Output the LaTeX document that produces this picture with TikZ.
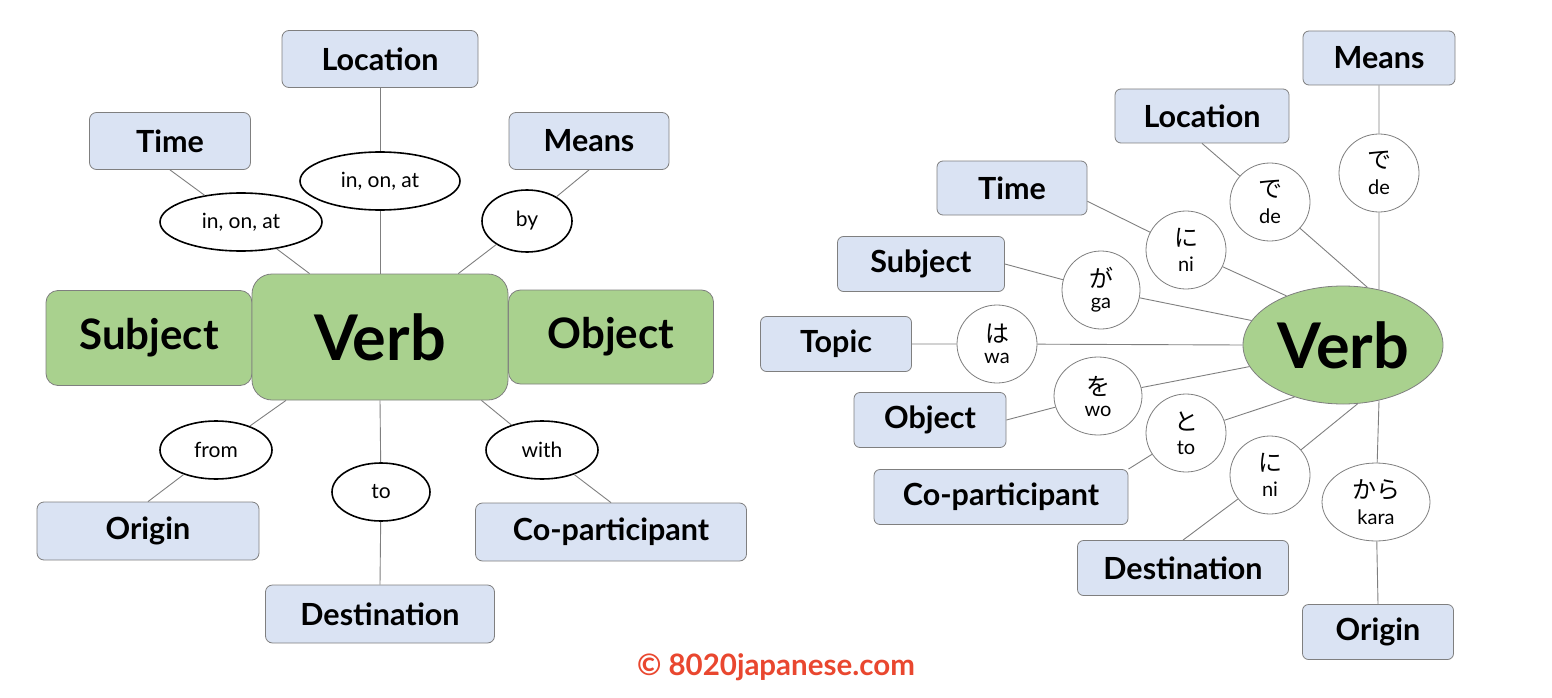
\documentclass[tikz,border=0pt]{standalone}
\usepackage{fontspec}
\setmainfont{Lato}
\newfontfamily\jpfont{Noto Sans CJK JP}
\usetikzlibrary{shapes.geometric}
\definecolor{boxblue}{HTML}{DAE3F3}
\definecolor{verbgreen}{HTML}{A9D18E}
\definecolor{edgegray}{HTML}{7F7F7F}
\definecolor{markred}{HTML}{E9472F}
\newcommand{\pk}[2]{{\jpfont\fontsize{24}{26}\selectfont #1}\\[9pt]{\fontsize{20}{22}\selectfont #2}}

\begin{document}
\begin{tikzpicture}[x=1pt,y=-1pt,
  box/.style={draw=edgegray,fill=boxblue,rounded corners=7pt,line width=0.8pt,font=\bfseries\fontsize{30.5}{32}\selectfont},
  core/.style={draw=edgegray,fill=verbgreen,rounded corners=12pt,line width=0.8pt,font=\bfseries\fontsize{42}{46}\selectfont},
  prt/.style={ellipse,draw=black,line width=1.6pt,fill=white,inner sep=0pt,minimum height=58,font=\fontsize{21}{23}\selectfont},
  pcl/.style={ellipse,draw=edgegray,line width=0.8pt,fill=white,inner sep=0pt,align=center,minimum width=80,minimum height=78},
  link/.style={draw=edgegray,line width=0.9pt}]
\useasboundingbox (0,0) rectangle (1552,698);
\node[box,minimum width=196,minimum height=57] (locL) at (380,59) {Location};
\node[box,minimum width=161,minimum height=57] (timeL) at (170,141) {Time};
\node[box,minimum width=160,minimum height=57] (meansL) at (589,141) {Means};
\node[core,minimum width=206,minimum height=95] (subjL) at (149,338) {Subject};
\node[core,minimum width=205,minimum height=94] (objL) at (611,337) {Object};
\node[core,rounded corners=20pt,minimum width=256,minimum height=126,font=\bfseries\fontsize{63}{66}\selectfont] (verbL) at (380,337) {Verb};
\node[box,minimum width=222,minimum height=58] (originL) at (148,531) {Origin};
\node[box,minimum width=229,minimum height=58] (destL) at (380,614) {Destination};
\node[box,minimum width=271,minimum height=58] (copL) at (611,532) {Co-participant};
\node[prt,minimum width=160] (pLoc) at (380,181) {in, on, at};
\node[prt,minimum width=162] (pTime) at (241,222) {in, on, at};
\node[prt,minimum width=90,minimum height=62] (pBy) at (527,221) {by};
\node[prt,minimum width=112] (pFrom) at (216,450) {from};
\node[prt,minimum width=98] (pTo) at (381,492) {to};
\node[prt,minimum width=112] (pWith) at (542,450) {with};
\draw[link] (locL.south) -- (pLoc) -- (verbL.north);
\draw[link] (timeL.south) -- (pTime) -- (verbL.138);
\draw[link] (meansL.south) -- (pBy) -- (verbL.39);
\draw[link] (originL.north) -- (pFrom) -- (verbL.214);
\draw[link] (destL.north) -- (pTo) -- (verbL.south);
\draw[link] (copL.north) -- (pWith) -- (verbL.328);

\node[ellipse,draw=edgegray,fill=verbgreen,line width=0.8pt,inner sep=0pt,minimum width=200,minimum height=118,font=\bfseries\fontsize{63}{66}\selectfont] (verbR) at (1343,345) {Verb};
\node[box,rounded corners=6pt,minimum width=152,minimum height=54] (meansR) at (1379,58) {Means};
\node[box,rounded corners=6pt,minimum width=174,minimum height=54] (locR) at (1202,116) {Location};
\node[box,rounded corners=6pt,minimum width=150,minimum height=54] (timeR) at (1012,188) {Time};
\node[box,rounded corners=6pt,minimum width=167,minimum height=55] (subjR) at (921,264) {Subject};
\node[box,rounded corners=6pt,minimum width=151,minimum height=55] (topicR) at (836,344) {Topic};
\node[box,rounded corners=6pt,minimum width=152,minimum height=55] (objR) at (930,420) {Object};
\node[box,rounded corners=6pt,minimum width=254,minimum height=55] (copR) at (1001,497) {Co-participant};
\node[box,rounded corners=6pt,minimum width=211,minimum height=55] (destR) at (1183,568) {Destination};
\node[box,rounded corners=6pt,minimum width=151,minimum height=55] (originR) at (1378,632) {Origin};
\node[pcl] (deM) at (1379,173) {\pk{で}{de}};
\node[pcl] (deL) at (1270,202) {\pk{で}{de}};
\node[pcl] (niT) at (1186,250) {\pk{に}{ni}};
\node[pcl,minimum width=78] (ga) at (1101,290) {\pk{が}{ga}};
\node[pcl] (wa) at (997,344) {\pk{は}{wa}};
\node[pcl,minimum width=88] (wo) at (1098,396) {\pk{を}{wo}};
\node[pcl] (toR) at (1186,433) {\pk{と}{to}};
\node[pcl] (niD) at (1270,475) {\pk{に}{ni}};
\node[pcl,minimum width=108] (kara) at (1376,502) {\pk{から}{kara}};
\draw[link] (meansR.south) -- (deM) -- (verbR.57);
\draw[link] (locR.south) -- (deL) -- (verbR.67);
\draw[link] (timeR.-10) -- (niT) -- (verbR.139);
\draw[link] (subjR.east) -- (ga) -- (verbR.165);
\draw[link] (topicR.east) -- (wa) -- (verbR.west);
\draw[link] (objR.east) -- (wo) -- (verbR.193);
\draw[link] (copR.north east) -- (toR) -- (verbR.227);
\draw[link] (destR.north) -- (niD) -- (verbR.284);
\draw[link] (originR.north) -- (kara) -- (verbR.303);

\node[text=markred,font=\bfseries\fontsize{29.5}{31}\selectfont] (mark) at (776,667) {© 8020japanese.com};
\end{tikzpicture}
\end{document}
